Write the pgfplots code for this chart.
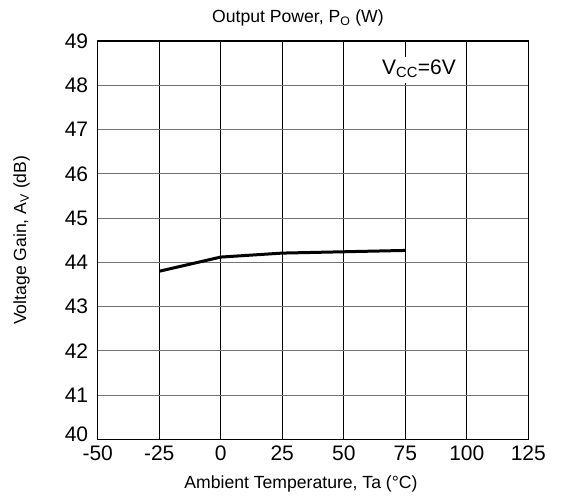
\documentclass[border=0pt]{standalone}
\usepackage{fontspec}
\setmainfont{Liberation Sans}
\usepackage{pgfplots}
\pgfplotsset{compat=1.18}

\begin{document}
\begin{tikzpicture}
\begin{axis}[
    scale only axis,
    width=430.6pt, height=398.5pt,
    xmin=-50, xmax=125, ymin=40, ymax=49,
    xtick={-50,-25,0,25,50,75,100,125},
    ytick={40,41,42,43,44,45,46,47,48,49},
    yticklabels={\raisebox{10pt}{40},41,42,43,44,45,46,47,48,49},
    /pgf/number format/assume math mode=true,
    tick label style={font=\fontsize{21}{24}\selectfont},
    xticklabel style={yshift=-3pt},
    yticklabel style={xshift=-6pt},
    major tick length=0pt,
    grid=major,
    x grid style={black, line width=0.9pt},
    y grid style={black!55, line width=1.1pt},
    axis line style={black, line width=1.6pt},
    clip=false,
]
  % Vcc label box
  \fill[white] (axis cs:64.3,48.05) rectangle (axis cs:96.9,48.64);
  \node[font=\fontsize{21}{24}\selectfont] at (axis cs:80.6,48.38)
    {V\textsubscript{CC}=6V};

  \addplot[black, line width=3pt] coordinates {
    (-25,43.80) (0,44.12) (25,44.21) (50,44.24) (75,44.27)
  };

  \node[font=\fontsize{17.6}{20}\selectfont] at ([yshift=23pt]rel axis cs:0.465,1)
    {Output Power, P\textsubscript{O} (W)};
  \node[font=\fontsize{17.6}{20}\selectfont] at ([yshift=-44pt]rel axis cs:0.472,0)
    {Ambient Temperature, Ta (°C)};
  \node[font=\fontsize{17.6}{20}\selectfont, rotate=90] at ([xshift=-76pt]rel axis cs:0,0.5)
    {Voltage Gain, A\textsubscript{V} (dB)};
\end{axis}
\pgfresetboundingbox
\useasboundingbox (-97.7pt,-61.5pt) rectangle (465.3pt,439.5pt);
\end{tikzpicture}
\end{document}
